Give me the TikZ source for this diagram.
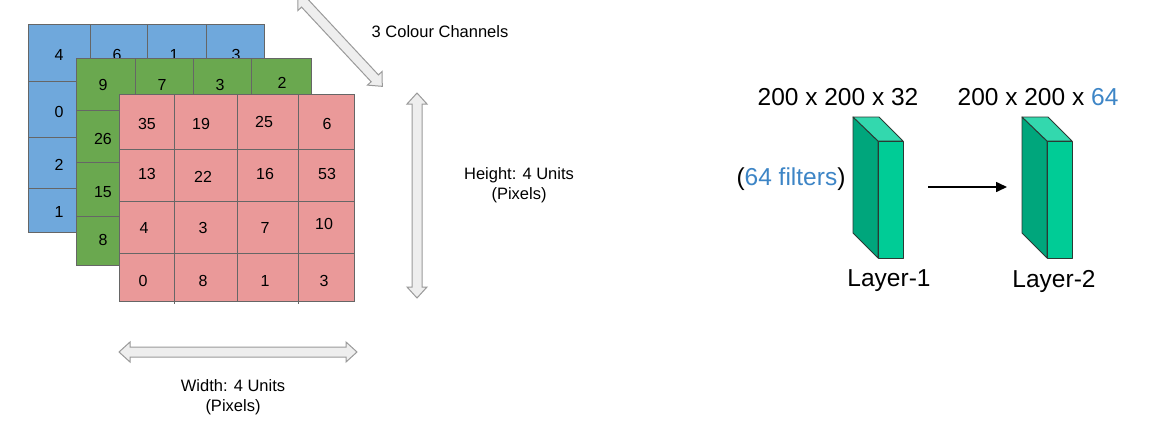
\documentclass[tikz,border=0pt]{standalone}
\usepackage{fontspec}
\setmainfont{Liberation Sans}
\usetikzlibrary{arrows.meta}
\definecolor{cblue}{HTML}{6FA8DC}
\definecolor{cgreen}{HTML}{6AA84F}
\definecolor{cred}{HTML}{EA9999}
\definecolor{gline}{HTML}{666666}
\definecolor{arrfill}{HTML}{EEEEEE}
\definecolor{arrline}{HTML}{9A9A9A}
\definecolor{tside}{HTML}{00A67C}
\definecolor{tfront}{HTML}{00CC96}
\definecolor{ttop}{HTML}{33D8AE}
\definecolor{tline}{HTML}{2A3A34}
\definecolor{fblue}{HTML}{3D85C6}
\tikzset{
  gridline/.style={draw=gline, line width=1pt},
  cellnum/.style={inner sep=0pt, font=\fontsize{16}{19}\selectfont},
  lbl/.style={inner sep=0pt, align=center, font=\fontsize{16.5}{20}\selectfont},
  big/.style={inner sep=0pt, font=\fontsize{24.5}{29}\selectfont},
  facebox/.style={draw=tline, line width=0.9pt, line join=round},
  pics/dblarrow/.style={code={
    \draw[draw=arrline, fill=arrfill, line width=1pt, line join=miter]
      (-#1/2,0) -- (-#1/2+11,10) -- (-#1/2+11,5) -- (#1/2-11,5) -- (#1/2-11,10)
      -- (#1/2,0) -- (#1/2-11,-10) -- (#1/2-11,-5) -- (-#1/2+11,-5) -- (-#1/2+11,-10) -- cycle;
  }}
}
\begin{document}
\begin{tikzpicture}[x=1pt,y=-1pt]
\useasboundingbox (0,0) rectangle (1150,429);
% blue channel
\fill[cblue] (28,24) rectangle (264,232);
\draw[gridline] (28,24) rectangle (264,232);
\draw[gridline] (90,24)--(90,232) (147,24)--(147,232) (206,24)--(206,232)
  (28,81)--(264,81) (28,137)--(264,137) (28,188)--(264,188);
\node[cellnum] (b11) at (59,55) {4};
\node[cellnum] (b12) at (117,55) {6};
\node[cellnum] (b13) at (174,55) {1};
\node[cellnum] (b14) at (236,55) {3};
\node[cellnum] (b21) at (59,112) {0};
\node[cellnum] (b31) at (59,165) {2};
\node[cellnum] (b41) at (59,212) {1};
% green channel
\fill[cgreen] (76,58) rectangle (311,265);
\draw[gridline] (76,58) rectangle (311,265);
\draw[gridline] (135,58)--(135,265) (193,58)--(193,265) (251,58)--(251,265)
  (76,110)--(311,110) (76,162)--(311,162) (76,216)--(311,216);
\node[cellnum] (g11) at (103,85) {9};
\node[cellnum] (g12) at (162,85) {7};
\node[cellnum] (g13) at (220,85) {3};
\node[cellnum] (g14) at (282,83) {2};
\node[cellnum] (g21) at (103,139) {26};
\node[cellnum] (g31) at (103,192) {15};
\node[cellnum] (g41) at (103,240) {8};
% red channel
\fill[cred] (119,94) rectangle (354,301);
\draw[gridline] (119,94) rectangle (354,301);
\draw[gridline] (174,94)--(174,304) (237,94)--(237,301) (298,94)--(298,304)
  (119,149)--(354,149) (119,201)--(354,201) (119,253)--(354,253);
\node[cellnum] (r11) at (147,124) {35};
\node[cellnum] (r12) at (201,124) {19};
\node[cellnum] (r13) at (264,122) {25};
\node[cellnum] (r14) at (327,124) {6};
\node[cellnum] (r21) at (147,174) {13};
\node[cellnum] (r22) at (203,177) {22};
\node[cellnum] (r23) at (265,174) {16};
\node[cellnum] (r24) at (327,174) {53};
\node[cellnum] (r31) at (144,228) {4};
\node[cellnum] (r32) at (203,228) {3};
\node[cellnum] (r33) at (265,228) {7};
\node[cellnum] (r34) at (324,224) {10};
\node[cellnum] (r41) at (143,281) {0};
\node[cellnum] (r42) at (203,281) {8};
\node[cellnum] (r43) at (265,281) {1};
\node[cellnum] (r44) at (324,281) {3};
% dimension arrows
\pic[rotate=-47] at (340,41) {dblarrow=124};
\pic[rotate=90] at (417,195.5) {dblarrow=205};
\pic at (238,352) {dblarrow=238};
\node[lbl] (chan) at (440,32) {3 Colour Channels};
\node[lbl] (height) at (519,185) {Height: 4 Units\\(Pixels)};
\node[lbl] (width) at (233,397) {Width: 4 Units\\(Pixels)};
% layer 1 block
\draw[facebox, fill=tside] (853,117) -- (878,141) -- (878,258) -- (853,233) -- cycle;
\draw[facebox, fill=ttop] (853,117) -- (879,117) -- (903,141) -- (878,141) -- cycle;
\draw[facebox, fill=tfront] (878,141) rectangle (903,258);
% layer 2 block
\draw[facebox, fill=tside] (1022,117) -- (1047,141) -- (1047,258) -- (1022,233) -- cycle;
\draw[facebox, fill=ttop] (1022,117) -- (1048,117) -- (1072,141) -- (1047,141) -- cycle;
\draw[facebox, fill=tfront] (1047,141) rectangle (1072,258);
% texts
\node[big] (d1) at (838,97) {200 x 200 x 32};
\node[big] (d2) at (1038,97) {200 x 200 x \textcolor{fblue}{64}};
\node[big] (filt) at (791,179) {(\textcolor{fblue}{64 filters})};
\node[big] (l1) at (889,281) {Layer-1};
\node[big] (l2) at (1054,281) {Layer-2};
% connector
\coordinate (a1) at (928,187);
\coordinate (a2) at (1007,187);
\draw[line width=1.6pt, -{Triangle[length=11pt,width=10pt]}] (a1) -- (a2);
\end{tikzpicture}
\end{document}
